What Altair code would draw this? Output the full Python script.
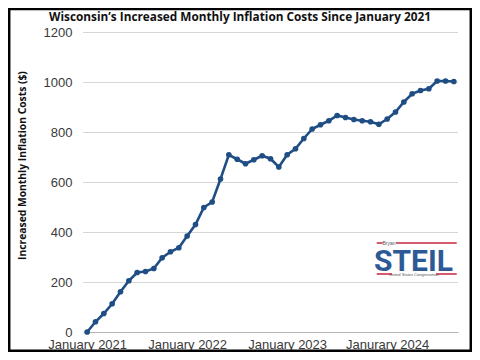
import altair as alt
import pandas as pd

# ---- data ----
month_index = list(range(45))  # Jan 2021 .. Sep 2024
costs = [0, 41, 74, 113, 161, 205, 238, 242, 254, 297, 321, 337, 384, 430, 498,
         520, 612, 709, 691, 673, 689, 705, 693, 660, 709, 733, 774, 812, 829, 845,
         866, 858, 850, 845, 841, 831, 852, 880, 920, 953, 966, 973, 1004, 1004, 1002]
tick_months = [0, 12, 24, 36]
tick_labels = ["January 2021", "January 2022", "January 2023", "Janurary 2024"]
y_ticks = [0, 200, 400, 600, 800, 1000, 1200]
title_text = "Wisconsin\u2019s Increased Monthly Inflation Costs Since January 2021"
y_title = "Increased Monthly Inflation Costs ($)"

df = pd.DataFrame({"month": month_index, "cost": costs})
grid_df = pd.DataFrame({"cost": y_ticks[1:]})
one = pd.DataFrame({"k": [0]})

W, H = 375, 300
LINE = "#1f4e85"
RED = "#c3263a"
label_js = "[" + ",".join("'" + t + "'" for t in tick_labels) + "]"

yscale = alt.Scale(domain=[0, 1200], nice=False)

x = alt.X("month:Q",
          scale=alt.Scale(domain=[-0.5, 44.5], nice=False, zero=False),
          axis=alt.Axis(values=tick_months, labelExpr=label_js + "[datum.value/12]",
                        title=None, grid=False, ticks=False,
                        domain=True, domainColor="#b3b3b3", domainWidth=1,
                        labelFont="Liberation Sans", labelFontSize=13,
                        labelColor="#3a3a3a", labelPadding=6,
                        labelFlush=False, labelOverlap=False))
y = alt.Y("cost:Q", scale=yscale,
          axis=alt.Axis(values=y_ticks, format="d", title=y_title, grid=False,
                        ticks=False, domain=False,
                        labelFont="Liberation Sans", labelFontSize=13,
                        labelColor="#3a3a3a", labelPadding=11,
                        titleFont="Open Sans", titleFontWeight="bold", titleFontSize=10.3,
                        titleColor="#111111", titleX=-61, titleY=133,
                        titleBaseline="middle", titleAngle=270))

grid = alt.Chart(grid_df).mark_rule(color="#d6d6d6", strokeWidth=1, yOffset=0.5).encode(
    y=y, x=alt.value(0), x2=alt.value(W))

line = alt.Chart(df).mark_line(
    color=LINE, strokeWidth=2.6,
    point=alt.OverlayMarkDef(filled=True, color=LINE, size=32, opacity=1),
).encode(x=x, y=y)

title = alt.Chart(one).mark_text(
    text=title_text, font="Open Sans", fontWeight="bold", fontSize=11.8,
    color="#111111", align="center", baseline="middle").encode(
    x=alt.value(157), y=alt.value(-15.5))

# logo
steil = alt.Chart(one).mark_text(
    text="STEIL", font="Roboto", fontWeight="bold", fontSize=30, color="#2d5a97",
    align="center", baseline="alphabetic").encode(x=alt.value(330.5), y=alt.value(239))
bryan = alt.Chart(one).mark_text(
    text="Bryan", font="Liberation Sans", fontSize=5, color="#555555",
    align="center", baseline="middle").encode(x=alt.value(306), y=alt.value(210.5))
congress = alt.Chart(one).mark_text(
    text="United States Congressman", font="Liberation Sans", fontSize=4,
    color="#555555", align="center", baseline="middle").encode(
    x=alt.value(331), y=alt.value(242.5))

def seg(x1, x2, yy):
    return alt.Chart(one).mark_rule(color=RED, strokeWidth=1.5).encode(
        x=alt.value(x1), x2=alt.value(x2), y=alt.value(yy))

rules = [seg(293.7, 299.7, 211), seg(313, 373.7, 211),
         seg(293.7, 309, 242), seg(353, 373.7, 242)]

border = alt.Chart(one).mark_rect(filled=False, stroke="black", strokeWidth=2.5).encode(
    x=alt.value(-73.8), x2=alt.value(387.8), y=alt.value(-23), y2=alt.value(318.8))

chart = alt.layer(grid, line, title, steil, bryan, congress, *rules, border).properties(
    width=W, height=H,
    padding={"left": 75, "top": 24, "right": 14, "bottom": 20},
    autosize=alt.AutoSizeParams(type="none"),
).configure_view(stroke=None)

chart.save("out.html", embed_options={"renderer": "svg", "actions": False})
